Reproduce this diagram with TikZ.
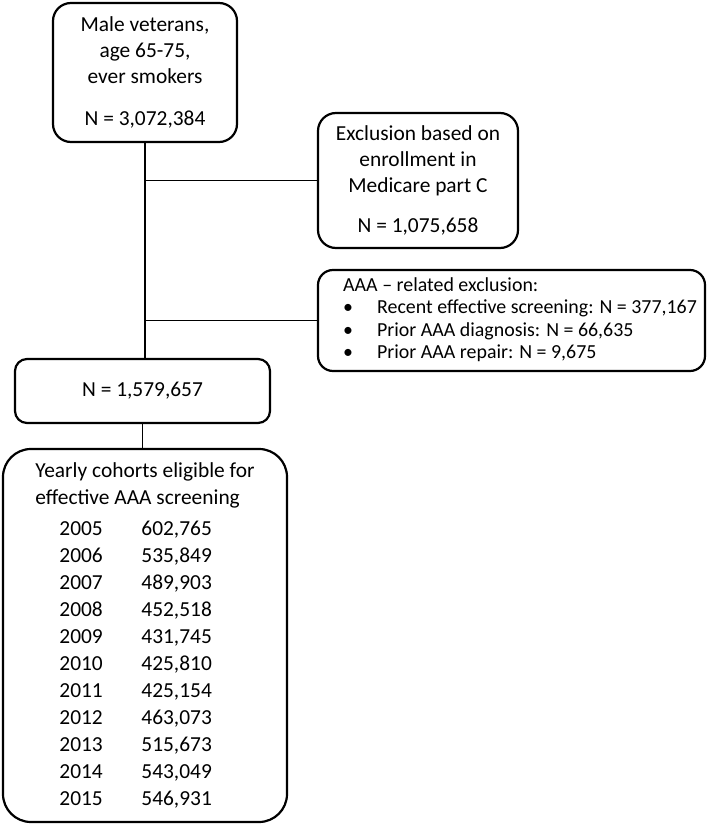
\documentclass[tikz,border=0pt]{standalone}
\usepackage{fontspec}
\setmainfont{Carlito}

\newcommand{\cohortrow}[2]{\hspace*{24pt}\makebox[82pt][l]{#1}#2}
\newcommand{\bulletitem}{\makebox[34pt][l]{\textbullet}}

\tikzset{
  flowbox/.style={draw, line width=2.2pt, rounded corners=18pt, align=center, inner sep=0pt, font=\fontsize{21.4}{26}\selectfont},
  link/.style={line width=1.9pt}
}

\begin{document}
\begin{tikzpicture}[x=1pt, y=-1pt]
        \useasboundingbox (0,0) rectangle (709,827);

        % Starting population
        \node[flowbox, minimum width=184pt, minimum height=139pt] (veterans) at (145,72.5)
            {Male veterans,\\ age 65-75,\\ ever smokers\\[16pt] N = 3,072,384};

        % Medicare part C exclusion
        \node[flowbox, minimum width=200pt, minimum height=135pt] (medicare) at (418,180.5)
            {Exclusion based on\\ enrollment in\\ Medicare part C\\[14pt] N = 1,075,658};

        % AAA related exclusion
        \node[flowbox, rounded corners=15pt, minimum width=387pt, minimum height=101pt, align=left, font=\fontsize{19.9}{22.5}\selectfont] (aaa) at (511.5,320.5)
            {\begin{tabular}{@{\hspace{24pt}}l@{\hspace{7pt}}}
             AAA \textendash\ related exclusion:\\
             \bulletitem Recent effective screening: N = 377,167\\
             \bulletitem Prior AAA diagnosis: N = 66,635\\
             \bulletitem Prior AAA repair: N = 9,675
             \end{tabular}};

        % Remaining population
        \node[flowbox, rounded corners=12pt, minimum width=255pt, minimum height=64pt] (eligible) at (142.5,391)
            {N = 1,579,657};

        % Yearly cohorts
        \node[flowbox, rounded corners=28pt, minimum width=284pt, minimum height=373pt, align=left, font=\fontsize{21.4}{27}\selectfont] (cohorts) at (145,635.5)
            {Yearly cohorts eligible for\\ effective AAA screening\\[4pt]
             \cohortrow{2005}{602,765}\\ \cohortrow{2006}{535,849}\\
             \cohortrow{2007}{489,903}\\ \cohortrow{2008}{452,518}\\
             \cohortrow{2009}{431,745}\\ \cohortrow{2010}{425,810}\\
             \cohortrow{2011}{425,154}\\ \cohortrow{2012}{463,073}\\
             \cohortrow{2013}{515,673}\\ \cohortrow{2014}{543,049}\\
             \cohortrow{2015}{546,931}};

        % Branch points on the main line
        \coordinate (split1) at (veterans.south |- medicare.west);
        \coordinate (split2) at (veterans.south |- aaa.west);

        % Connectors
        \draw[link] (veterans.south) -- (veterans.south |- eligible.north);
        \draw[link] (split1) -- (medicare.west);
        \draw[link] (split2) -- (aaa.west);
        \draw[link] (eligible.south) -- (eligible.south |- cohorts.north);
    \end{tikzpicture}
\end{document}
